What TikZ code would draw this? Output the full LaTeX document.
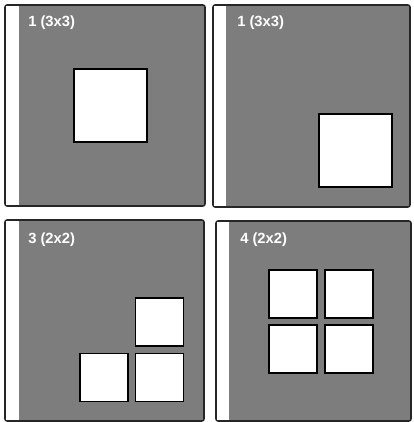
\documentclass[tikz,border=0pt]{standalone}
\usepackage{fontspec}
\setmainfont{Liberation Sans}
\usetikzlibrary{positioning}

\begin{document}
\begin{tikzpicture}[x=0.025cm, y=-0.025cm,
    panel/.style={fill=gray!98!black, draw=black!85, line width=1.1pt, rounded corners=1.5pt},
    stripe/.style={fill=white},
    cell/.style={fill=white, draw=black, line width=1.1pt},
    tag/.style={anchor=west, text=white, font=\bfseries\fontsize{10.5}{12}\selectfont, inner sep=0pt}]
    \useasboundingbox (0, 0) rectangle (414, 422);
    % Panel 1: one 3x3 block in the centre
    \filldraw[panel] (5, 5) rectangle (205, 206);
    \fill[stripe] (5.6, 5.6) rectangle (19, 205.4);
    \node[tag] (t1) at (28, 23) {1 (3x3)};
    \node[cell, minimum size=73*0.025cm] (c1) at (110.5, 105.5) {};
    % Panel 2: one 3x3 block in the corner
    \filldraw[panel] (213, 5) rectangle (410, 207);
    \fill[stripe] (213.6, 5.6) rectangle (226, 206.4);
    \node[tag] (t2) at (237, 23) {1 (3x3)};
    \node[cell, minimum size=73*0.025cm] (c2) at (355.5, 150.5) {};
    % Panel 3: three 2x2 blocks
    \filldraw[panel] (5, 220) rectangle (204, 421);
    \fill[stripe] (5.6, 220.6) rectangle (19, 420.4);
    \node[tag] (t3) at (28, 240) {3 (2x2)};
    \node[cell, minimum size=48*0.025cm] (c3a) at (159.5, 322) {};
    \node[cell, minimum size=48*0.025cm] (c3b) at (104, 377.5) {};
    \node[cell, minimum size=48*0.025cm] (c3c) at (159.5, 377.5) {};
    % Panel 4: four 2x2 blocks
    \filldraw[panel] (216, 221) rectangle (411, 421);
    \fill[stripe] (216.6, 221.6) rectangle (229, 420.4);
    \node[tag] (t4) at (240, 240) {4 (2x2)};
    \foreach \cx/\cy [count=\i] in {293/294, 349/294, 293/349, 349/349}
        \node[cell, minimum size=48*0.025cm] (c4\i) at (\cx, \cy) {};
\end{tikzpicture}
\end{document}
